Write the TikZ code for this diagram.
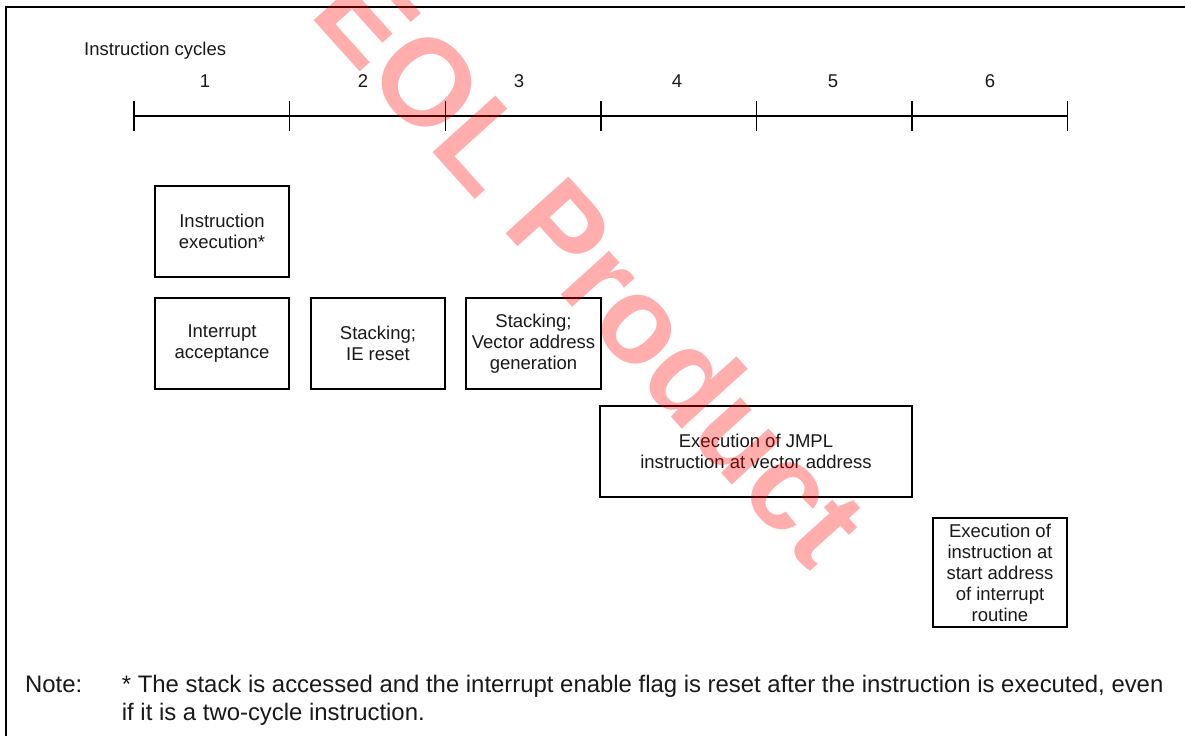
\documentclass[tikz,border=0pt]{standalone}
\usepackage{fontspec}
\setmainfont{Liberation Sans}
\begin{document}
\begin{tikzpicture}[x=1pt,y=-1pt,
  box/.style={draw=black, line width=1.2pt, align=center, inner sep=0pt,
    font=\fontsize{18.5}{21}\selectfont, text=black!90},
  lbl/.style={inner sep=0pt, font=\fontsize{18.5}{21}\selectfont, text=black!90},
  notetxt/.style={inner sep=0pt, anchor=base west, font=\fontsize{23.9}{28}\selectfont, text=black!90},
  axis/.style={line width=1.2pt, draw=black}
]
\useasboundingbox (0,0) rectangle (1185,736);
\fill[white] (0,0) rectangle (1185,736);
% frame
\coordinate (fr1) at (6,736);
\coordinate (fr2) at (6,7);
\coordinate (fr3) at (1185,7);
\draw[line width=1.5pt] (fr1) -- (fr2) -- (fr3);

% title
\node[lbl, anchor=base west] (title) at (84,55.5) {Instruction cycles};

% time axis
\foreach \i/\x in {0/134,1/289.7,2/445.3,3/601,4/756.5,5/912,6/1067.5}{
  \coordinate (t\i) at (\x,116);
  \coordinate (t\i u) at (\x,101);
  \coordinate (t\i d) at (\x,131);
  \draw[axis] (t\i u) -- (t\i d);
}
\draw[axis] (t0) -- (t6);

% cycle numbers
\foreach \n/\x in {1/205,2/363,3/519,4/677,5/833,6/990}{
  \node[lbl, anchor=base] (n\n) at (\x,87) {\n};
}

% boxes
\node[box, minimum width=134pt, minimum height=91pt] (ie) at (222,231.5) {Instruction\\execution*};
\node[box, minimum width=134pt, minimum height=91pt] (ia) at (222,343.5) {Interrupt\\acceptance};
\node[box, minimum width=134pt, minimum height=91pt] (s1) at (378,343.5) {Stacking;\\IE reset};
\node[box, minimum width=135pt, minimum height=91pt] (s2) at (533.5,343.5) {Stacking;\\Vector address\\generation};
\node[box, minimum width=312pt, minimum height=91pt] (jm) at (756,451.5) {Execution of JMPL\\instruction at vector address};
\node[box, minimum width=134pt, minimum height=109pt] (ex) at (1000,572.5) {Execution of\\instruction at\\start address\\of interrupt\\routine};

% note
\node[notetxt] (nl) at (25,692.7) {Note:};
\node[notetxt] (n1) at (121.7,692.7) {* The stack is accessed and the interrupt enable flag is reset after the instruction is executed, even};
\node[notetxt] (n2) at (121.7,720.7) {if it is a two-cycle instruction.};

% watermark
\node[rotate=-48, anchor=base west, inner sep=0pt, text=red, opacity=0.32,
  font=\bfseries\fontsize{123}{123}\selectfont] (wm) at (308,14) {EOL Product};
\end{tikzpicture}
\end{document}
